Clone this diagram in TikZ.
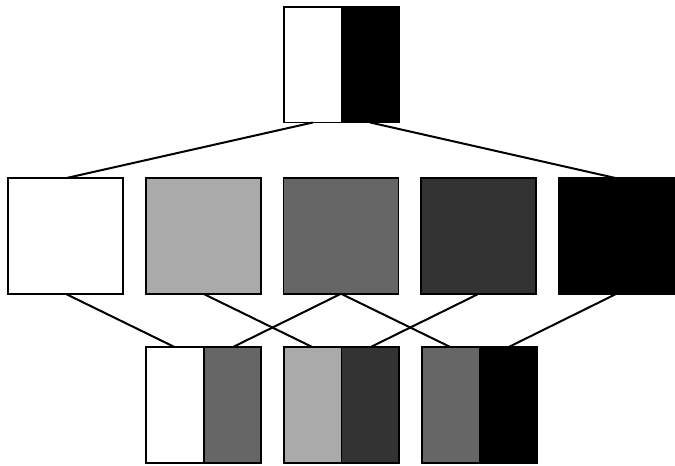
\documentclass[tikz,border=0pt]{standalone}
\definecolor{gA}{HTML}{AAAAAA}
\definecolor{gB}{HTML}{666666}
\definecolor{gC}{HTML}{333333}
\begin{document}
\begin{tikzpicture}[x=1pt,y=-1pt,
  sq/.style={draw=black,line width=1.6pt,minimum width=115pt,minimum height=115.5pt,inner sep=0pt,outer sep=0pt},
  half/.style={draw=black,line width=1.6pt,minimum width=57.5pt,minimum height=115.5pt,inner sep=0pt,outer sep=0pt},
  link/.style={line width=2pt}]
\useasboundingbox (0,0) rectangle (675,466);
% top
\node[half,fill=white] (T1) at (312.75,64.75) {};
\node[half,fill=black] (T2) at (370.25,64.75) {};
% middle
\node[sq,fill=white] (M1) at (65.5,236) {};
\node[sq,fill=gA] (M2) at (203.25,236) {};
\node[sq,fill=gB] (M3) at (341,236) {};
\node[sq,fill=gC] (M4) at (478.75,236) {};
\node[sq,fill=black] (M5) at (616.5,236) {};
% bottom
\node[half,fill=white] (B1a) at (175,405) {};
\node[half,fill=gB] (B1b) at (232.5,405) {};
\node[half,fill=gA] (B2a) at (312.75,405) {};
\node[half,fill=gC] (B2b) at (370.25,405) {};
\node[half,fill=gB] (B3a) at (450.75,405) {};
\node[half,fill=black] (B3b) at (508.25,405) {};
% connectors
\draw[link] (T1.south) -- (M1.north);
\draw[link] (T2.south) -- (M5.north);
\draw[link] (M1.south) -- (B1a.north);
\draw[link] (M2.south) -- (B2a.north);
\draw[link] (M3.south) -- (B1b.north);
\draw[link] (M3.south) -- (B3a.north);
\draw[link] (M4.south) -- (B2b.north);
\draw[link] (M5.south) -- (B3b.north);
\end{tikzpicture}
\end{document}
